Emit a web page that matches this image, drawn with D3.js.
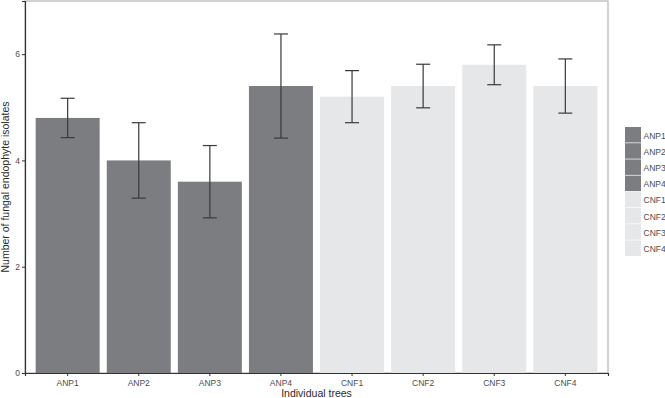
<!DOCTYPE html>
<meta charset="utf-8">
<style>
  body { margin: 0; background: #fff; font-family: "Liberation Sans", Arial, sans-serif; }
</style>
<body>
<svg></svg>
<script src="https://d3js.org/d3.v7.min.js"></script>
<script>
var trees = ["ANP1", "ANP2", "ANP3", "ANP4", "CNF1", "CNF2", "CNF3", "CNF4"];
var means = [4.8, 4.0, 3.6, 5.4, 5.2, 5.4, 5.8, 5.4];
var errors = [0.37, 0.71, 0.68, 0.98, 0.49, 0.41, 0.375, 0.51];
var yTicks = [0, 2, 4, 6];

var width = 665, height = 398;
var margin = {top: 1, right: 57, bottom: 25, left: 25};
var pw = width - margin.left - margin.right,
    ph = height - margin.top - margin.bottom;

var svg = d3.select("svg").attr("width", width).attr("height", height);
var g = svg.append("g").attr("transform", "translate(" + margin.left + "," + margin.top + ")");

var x = d3.scaleBand().domain(trees).range([0, pw]).paddingInner(0.1).paddingOuter(0.15);
var y = d3.scaleLinear().domain([0, 7]).range([ph, 0]);
var color = function (d) { return d.slice(0, 3) == "ANP" ? "#7c7d81" : "#e6e7e9"; };

var data = trees.map(function (t, i) { return {name: t, v: means[i], e: errors[i]}; });

// panel border
g.append("rect").attr("width", pw).attr("height", ph)
  .attr("fill", "none").attr("stroke", "#b5b5b5").attr("stroke-width", 1.2);

g.selectAll(".bar").data(data).enter().append("rect")
  .attr("x", function (d) { return x(d.name); })
  .attr("y", function (d) { return y(d.v); })
  .attr("width", x.bandwidth())
  .attr("height", function (d) { return ph - y(d.v); })
  .attr("fill", function (d) { return color(d.name); });

// error bars
var eb = g.selectAll(".err").data(data).enter().append("g")
  .attr("stroke", "#3a3a3a").attr("stroke-width", 1.2);
var cap = 7;
var cx = function (d) { return x(d.name) + x.bandwidth() / 2; };
eb.append("line")
  .attr("x1", cx).attr("x2", cx)
  .attr("y1", function (d) { return y(d.v + d.e); })
  .attr("y2", function (d) { return y(d.v - d.e); });
[1, -1].forEach(function (s) {
  eb.append("line")
    .attr("x1", function (d) { return cx(d) - cap; })
    .attr("x2", function (d) { return cx(d) + cap; })
    .attr("y1", function (d) { return y(d.v + s * d.e); })
    .attr("y2", function (d) { return y(d.v + s * d.e); });
});

// axes
var xAxis = g.append("g").attr("transform", "translate(0," + ph + ")")
  .call(d3.axisBottom(x).tickSizeOuter(0).tickSize(3).tickPadding(3.5));
var yAxis = g.append("g")
  .call(d3.axisLeft(y).tickValues(yTicks).tickFormat(d3.format("d"))
    .tickSizeOuter(0).tickSize(3).tickPadding(2));
[xAxis, yAxis].forEach(function (a) {
  a.select(".domain").attr("stroke", "#333").attr("stroke-width", 1.2);
  a.selectAll(".tick line").attr("stroke", "#333");
  a.selectAll("text").attr("font-size", 8.5)
    .attr("font-family", "Liberation Sans, Arial, sans-serif").attr("fill", "#4d4d4d");
});

svg.append("text")
  .attr("x", margin.left + pw / 2).attr("y", 396.5)
  .attr("text-anchor", "middle").attr("font-size", 10.5).attr("fill", "#2b2b2b")
  .text("Individual trees");
svg.append("text")
  .attr("transform", "translate(9," + (margin.top + ph / 2) + ")rotate(-90)")
  .attr("text-anchor", "middle").attr("font-size", 10.5).attr("fill", "#2b2b2b")
  .text("Number of fungal endophyte isolates");

// legend
var legend = svg.append("g").attr("transform", "translate(625,127)");
var li = legend.selectAll("g").data(trees).enter().append("g")
  .attr("transform", function (d, i) { return "translate(0," + i * 16.2 + ")"; });
li.append("rect").attr("width", 16).attr("height", 15.5)
  .attr("fill", function (d) { return color(d); });
li.append("text").attr("x", 18.5).attr("y", 11.5).attr("font-size", 8.5)
  .attr("fill", "#4d4d4d")
  .text(function (d) { return d; });
</script>
</body>
